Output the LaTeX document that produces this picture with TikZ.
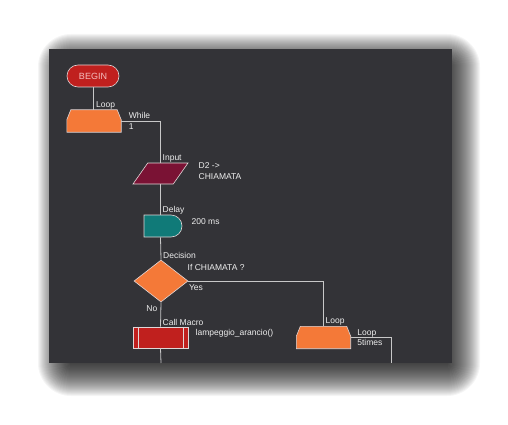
\documentclass[tikz,border=0pt]{standalone}
\usepackage{fontspec}
\setmainfont{Liberation Sans}
\definecolor{myPanel}{RGB}{51,51,55}
\definecolor{myOrange}{RGB}{244,121,56}
\definecolor{myMaroon}{RGB}{122,18,52}
\definecolor{myTeal}{RGB}{16,122,120}
\definecolor{myRed}{RGB}{192,32,30}
\definecolor{myLine}{RGB}{200,200,200}
\definecolor{myEdge}{RGB}{225,215,215}
\definecolor{myText}{RGB}{238,238,238}
\definecolor{myPink}{RGB}{245,190,190}
\usetikzlibrary{shapes.geometric, shapes.misc}

\begin{document}
\begin{tikzpicture}[x=1pt, y=-1pt,
      conn/.style={draw=myLine, line width=0.8pt},
      shp/.style={draw=myEdge, line width=0.6pt, inner sep=0pt},
      startbox/.style={shp, rounded rectangle, fill=myRed, text=myPink,
                    minimum width=52, minimum height=22,
                    font=\fontsize{9}{10}\selectfont},
      loopbox/.style={rectangle, inner sep=0pt, minimum width=54, minimum height=22},
      loopshape/.style={draw=myEdge, line width=0.6pt, fill=myOrange},
      inputbox/.style={shp, trapezium, trapezium left angle=60,
                    trapezium right angle=120, trapezium stretches=true,
                    inner sep=1pt, fill=myMaroon,
                    minimum width=55, minimum height=21},
      delaybox/.style={shp, rounded rectangle, rounded rectangle left arc=none,
                    fill=myTeal, minimum width=38, minimum height=22},
      decbox/.style={shp, diamond, fill=myOrange,
                    minimum width=54, minimum height=42},
      macrobox/.style={shp, rectangle, fill=myRed,
                    minimum width=55, minimum height=21,
                    path picture={
                      \draw[myEdge, line width=0.6pt]
                        ([xshift=5pt]path picture bounding box.north west) --
                        ([xshift=5pt]path picture bounding box.south west)
                        ([xshift=-5pt]path picture bounding box.north east) --
                        ([xshift=-5pt]path picture bounding box.south east);}},
      lbl/.style={text=myText, inner sep=0.5pt, align=left,
                    font=\fontsize{8.5}{10.5}\selectfont}]
  \useasboundingbox (0,0) rectangle (508,425);
  % soft drop shadow, then the dark panel
  \foreach \r [evaluate=\r as \rc using \r+17] in {-16,...,16}
    \fill[black, opacity=0.038, rounded corners=\rc pt]
      ({54-\r},{50-\r}) rectangle ({464+\r},{380+\r});
  \fill[myPanel] (49,49) rectangle (452,363);
  \coordinate (endA) at (161,363);
  \coordinate (endB) at (391,363);

  % shapes
  \node[startbox] (begin) at (93,76) {BEGIN};
  \node[loopbox] (loopA) at (94,121) {};
  \node[inputbox] (input) at (160.5,173.5) {};
  \node[delaybox] (delay) at (163,226) {};
  \node[decbox] (decision) at (161,281) {};
  \node[macrobox] (macro) at (160.5,337.5) {};
  \node[loopbox] (loopB) at (323.5,337.5) {};
  \foreach \n in {loopA, loopB}
    \filldraw[loopshape] (\n.south west) -- ([yshift=-10pt]\n.north west)
      -- ([xshift=4pt]\n.north west) -- ([xshift=-4pt]\n.north east)
      -- ([yshift=-10pt]\n.north east) -- (\n.south east) -- cycle;

  % connectors
  \draw[conn] (begin.south) -- (begin.south |- loopA.north);
  \draw[conn] (loopA.east) -| (input.north);
  \draw[conn] (input.south) -- (input.south |- delay.north);
  \draw[conn] (input.south |- delay.south) -- (decision.north);
  \draw[conn] (decision.south) -- (macro.north);
  \draw[conn] (macro.south) -- (endA);
  \draw[conn] (decision.east) -| (loopB.north);
  \draw[conn] (loopB.east) -| (endB);

  % labels
  \node[lbl, anchor=south west] (loopAlbl) at ([xshift=1.5pt]loopA.north) {Loop};
  \node[lbl, anchor=west] (whileLbl) at ([xshift=7pt]loopA.east) {While\\1};
  \node[lbl, anchor=south west] (inputLbl) at ([xshift=1.5pt]input.north) {Input};
  \node[lbl, anchor=north west] (inputTxt) at (198,162) {D2 ->\\CHIAMATA};
  \node[lbl, anchor=south west] (delayLbl) at ([xshift=1.5pt]input.south |- delay.north) {Delay};
  \node[lbl, anchor=west] (delayTxt) at (191,222) {200 ms};
  \node[lbl, anchor=south west] (decLbl) at ([xshift=1.5pt]decision.north) {Decision};
  \node[lbl, anchor=west] (decTxt) at (187,267) {If CHIAMATA ?};
  \node[lbl, anchor=north west] (yesLbl) at ([yshift=-3pt]decision.east) {Yes};
  \node[lbl, anchor=east] (noLbl) at (158,309) {No};
  \node[lbl, anchor=south west] (macroLbl) at ([xshift=1.5pt]macro.north) {Call Macro};
  \node[lbl, anchor=west] (macroTxt) at (195,333) {lampeggio\_arancio()};
  \node[lbl, anchor=south west] (loopBlbl) at ([xshift=1.5pt]loopB.north) {Loop};
  \node[lbl, anchor=west] (timesLbl) at ([xshift=6pt]loopB.east) {Loop\\5times};
\end{tikzpicture}
\end{document}
